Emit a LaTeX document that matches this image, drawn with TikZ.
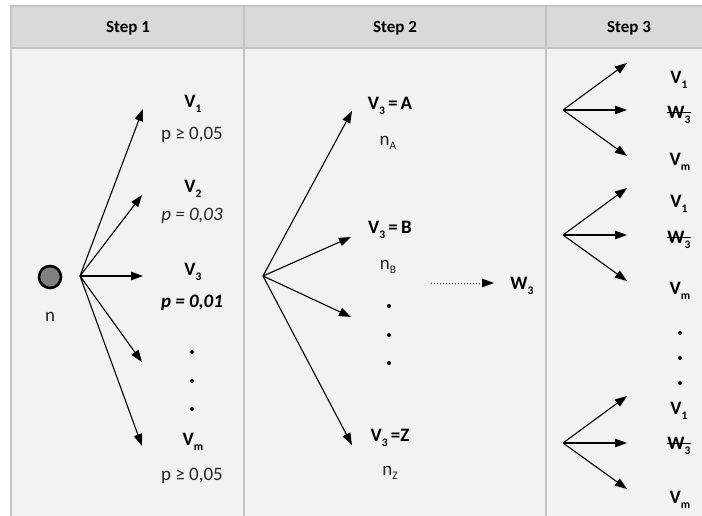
\documentclass[tikz,border=0pt]{standalone}
\usepackage{fontspec}
\setmainfont{Carlito}
\usetikzlibrary{arrows.meta}
\definecolor{hdrgray}{HTML}{D9D9D9}
\definecolor{bodygray}{HTML}{F2F2F2}
\definecolor{rulegray}{HTML}{C4C4C4}
\definecolor{txtgray}{HTML}{262626}
\tikzset{
  arr/.style={line width=1.1pt, -{Triangle[length=12pt,width=8.5pt]}},
  dotarr/.style={line width=1pt, dotted, -{Triangle[length=12pt,width=8.5pt]}},
  lab/.style={font=\fontsize{19}{20}\selectfont\bfseries, inner sep=0pt},
  val/.style={font=\fontsize{19}{20}\selectfont, text=txtgray, inner sep=0pt},
  hdr/.style={font=\fontsize{17}{20}\selectfont\bfseries, inner sep=0pt},
  dot/.style={circle, fill=black, inner sep=0pt, minimum size=4pt},
  tab/.style={draw=rulegray, line width=1.2pt},
}
\newcommand\sbs[1]{\raisebox{-0.5ex}{\fontsize{11.5}{12}\selectfont #1}}
\newcommand\strk[1]{\setbox0\hbox{#1}\rlap{\rule[0.3em]{\wd0}{1pt}}\box0}
\begin{document}
\begin{tikzpicture}[x=1pt,y=-1pt]
\useasboundingbox (0,0) rectangle (702,516);
% table
\fill[bodygray] (11,6) rectangle (702,516);
\fill[hdrgray] (11,6) rectangle (702,48);
\draw[tab] (702,6) -- (11,6) -- (11,516);
\draw[tab] (11,48) -- (702,48);
\draw[tab] (244,6) -- (244,516);
\draw[tab] (546,6) -- (546,516);
\node[hdr] (h1) at (128,28) {Step 1};
\node[hdr] (h2) at (395,28) {Step 2};
\node[hdr] (h3) at (629,28) {Step 3};
% step 1
\node[circle, fill=gray, draw=black, line width=2.6pt, minimum size=22pt, inner sep=0pt] (c) at (50,277) {};
\node[val] (n) at (50,317) {n};
\coordinate (o1) at (80,276);
\coordinate (t11) at (143,109);
\coordinate (t12) at (142,195);
\coordinate (t13) at (143,276);
\coordinate (t14) at (142,362);
\coordinate (t15) at (142,446);
\foreach \t in {t11,t12,t13,t14,t15} \draw[arr] (o1) -- (\t);
\node[lab] (v1) at (193,104) {V\sbs{1}};
\node[val] (p1) at (192,135) {p ≥ 0,05};
\node[lab] (v2) at (193,189) {V\sbs{2}};
\node[val] (p2) at (192,216) {\itshape p = 0,03};
\node[lab] (v3) at (193,272) {V\sbs{3}};
\node[val, text=black] (p3) at (192,303) {\bfseries\itshape p = 0,01};
\node[dot] (d11) at (192,352) {};
\node[dot] (d12) at (192,381) {};
\node[dot] (d13) at (192,409) {};
\node[lab] (vm) at (193,442) {V\sbs{m}};
\node[val] (pm) at (192,476) {p ≥ 0,05};
% step 2
\coordinate (o2) at (263,276);
\coordinate (t21) at (352,111);
\coordinate (t22) at (351,237);
\coordinate (t23) at (351,317);
\coordinate (t24) at (352,445);
\foreach \t in {t21,t22,t23,t24} \draw[arr] (o2) -- (\t);
\node[lab] (va) at (390,106) {V\sbs{3}\,=\,A};
\node[val] (na) at (388,143) {n\sbs{A}};
\node[lab] (vb) at (390,230) {V\sbs{3}\,=\,B};
\node[val] (nb) at (388,267) {n\sbs{B}};
\node[dot] (d21) at (389,306) {};
\node[dot] (d22) at (389,335) {};
\node[dot] (d23) at (389,363) {};
\node[lab] (vz) at (390,438) {V\sbs{3}\,=Z};
\node[val] (nz) at (390,473) {n\sbs{Z}};
\coordinate (ds) at (431,283);
\coordinate (de) at (494,283);
\node[lab] (w3) at (522,286) {W\sbs{3}};
\draw[dotarr] (ds) -- (de);
% step 3
\foreach \k/\y/\ya/\yb/\yc in {a/110/80/115/162, b/235/204/240/291, c/443/411/446/500}{
  \coordinate (o3\k) at (563,\y);
  \coordinate (u\k) at (627,\y-47);
  \coordinate (m\k) at (627,\y);
  \coordinate (l\k) at (627,\y+46);
  \draw[arr] (o3\k) -- (u\k);
  \draw[arr] (o3\k) -- (m\k);
  \draw[arr] (o3\k) -- (l\k);
  \node[lab] (s1\k) at (679,\ya) {V\sbs{1}};
  \node[lab] (sw\k) at (679,\yb) {\strk{W\sbs{3}}};
  \node[lab] (sm\k) at (680,\yc) {V\sbs{m}};
}
\node[dot] (d31) at (680,333) {};
\node[dot] (d32) at (680,358) {};
\node[dot] (d33) at (680,383) {};
\end{tikzpicture}
\end{document}
